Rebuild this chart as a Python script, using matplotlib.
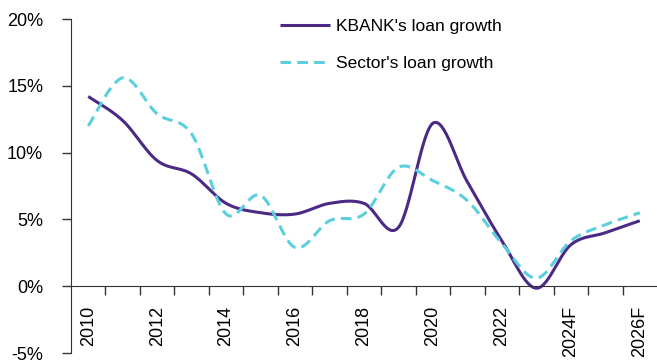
import numpy as np
import matplotlib
matplotlib.use("Agg")
import matplotlib.pyplot as plt
from matplotlib.ticker import FuncFormatter, FixedLocator, FixedFormatter, NullFormatter

categories = ["2010", "2011", "2012", "2013", "2014", "2015", "2016", "2017", "2018",
              "2019", "2020", "2021", "2022", "2023", "2024F", "2025F", "2026F"]
kbank = [14.2, 12.4, 9.4, 8.4, 6.2, 5.5, 5.4, 6.2, 6.2, 4.4, 12.2, 7.8, 3.4, -0.15, 3.1, 4.0, 4.9]
sector = [12.0, 15.6, 12.9, 11.4, 5.4, 6.8, 2.9, 4.9, 5.4, 8.9, 7.9, 6.4, 3.2, 0.6, 3.4, 4.6, 5.5]
series_names = ["KBANK's loan growth", "Sector's loan growth"]
yticks = [-5, 0, 5, 10, 15, 20]

plt.rcParams['font.family'] = ['Liberation Sans', 'DejaVu Sans']


def smooth(xs, ys, n=30):
    xs = np.asarray(xs, float)
    ys = np.asarray(ys, float)
    P = np.column_stack([xs, ys])
    Pe = np.vstack([P[0], P, P[-1]])
    out = []
    for i in range(len(P) - 1):
        p0, p1, p2, p3 = Pe[i], Pe[i + 1], Pe[i + 2], Pe[i + 3]
        c1 = p1 + (p2 - p0) / 6.0
        c2 = p2 - (p3 - p1) / 6.0
        t = np.linspace(0, 1, n)[:, None]
        seg = ((1 - t) ** 3) * p1 + 3 * ((1 - t) ** 2) * t * c1 + 3 * (1 - t) * t ** 2 * c2 + t ** 3 * p2
        out.append(seg if i == 0 else seg[1:])
    out = np.vstack(out)
    return out[:, 0], out[:, 1]


fig = plt.figure(figsize=(6.57, 3.63), dpi=100)
ax = fig.add_axes([71 / 657, 1 - 353 / 363, 1 - 71 / 657, (353 - 19) / 363])

x = np.arange(len(categories))
sx, sy = smooth(x, kbank)
ax.plot(sx, sy, color="#4B2A86", lw=2.2, solid_capstyle='butt', label=series_names[0])
sx2, sy2 = smooth(x, sector)
ax.plot(sx2, sy2, color="#5BCFDE", lw=2.2, dashes=(3.5, 2.0), label=series_names[1])

ax.set_xlim(-0.5, len(categories) - 0.5)
ax.set_ylim(-5, 20)
ax.set_yticks(yticks)
ax.yaxis.set_major_formatter(FuncFormatter(lambda v, p: f"{int(v)}%"))

# major ticks: category boundaries (marks only); minor ticks: category centres (labels)
ax.xaxis.set_major_locator(FixedLocator(list(np.arange(0.5, len(categories) - 1, 1.0))))
ax.xaxis.set_major_formatter(NullFormatter())
ax.xaxis.set_minor_locator(FixedLocator(list(x[::2])))
ax.xaxis.set_minor_formatter(FixedFormatter(categories[::2]))
ax.tick_params(axis='x', which='major', length=6.3, width=1, direction='out', color='#333333')
ax.tick_params(axis='x', which='minor', length=0, pad=14, labelsize=13, labelrotation=90)
ax.tick_params(axis='y', length=6.5, width=1, direction='out', labelsize=13, pad=13.5,
               color='#333333')

for s in ['top', 'right']:
    ax.spines[s].set_visible(False)
ax.spines['bottom'].set_position(('data', 0))
ax.spines['bottom'].set_color('#333333')
ax.spines['left'].set_color('#333333')

fig.legend(loc='upper left', bbox_to_anchor=(280 / 657, 1 - 19 / 363), frameon=False,
           fontsize=12.5, handlelength=2.9, handletextpad=0.35, labelspacing=1.25,
           borderpad=0, borderaxespad=0)

fig.savefig("out.png", dpi=100)
